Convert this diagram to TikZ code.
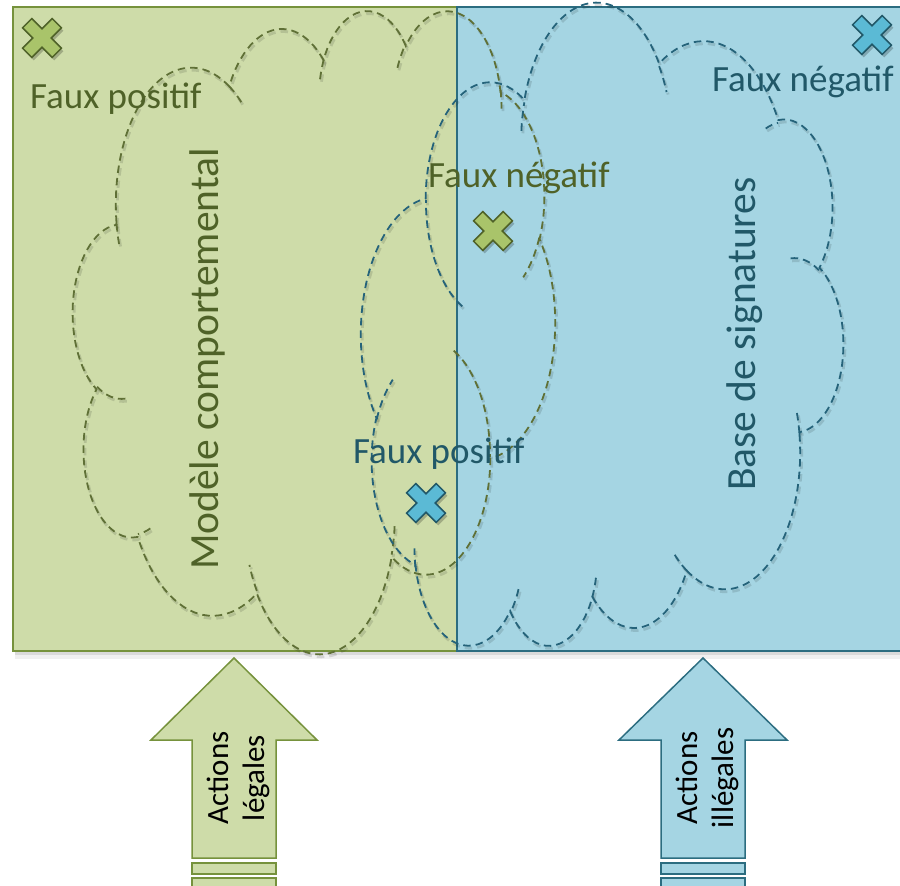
\documentclass[tikz,border=0pt]{standalone}
\usepackage{fontspec}
\setmainfont{Carlito}
\begin{document}
% palette
\definecolor{greenfill}{HTML}{CEDCA9}
\definecolor{greenline}{HTML}{76923C}
\definecolor{greendash}{HTML}{5F7036}
\definecolor{greentext}{HTML}{4F6228}
\definecolor{greencross}{HTML}{A9C46A}
\definecolor{bluefill}{HTML}{A5D5E3}
\definecolor{blueline}{HTML}{2C6D80}
\definecolor{bluedash}{HTML}{25637A}
\definecolor{bluetext}{HTML}{215868}
\definecolor{bluecross}{HTML}{5BBAD5}
\tikzset{
  % elliptic arc given by radii, start angle and sweep (angles measured as seen)
  carc/.style n args={4}{insert path={arc[x radius=#1, y radius=#2,
      start angle={atan2(#1*sin(#3),#2*cos(#3))},
      delta angle={mod(atan2(#1*sin(#3+#4),#2*cos(#3+#4))-atan2(#1*sin(#3),#2*cos(#3))+720,360)}]}},
  cloudline/.style={dash pattern=on 7.5pt off 5pt, line width=1.8pt},
  cloudframe/.style={xscale=11.157, yscale=14.884, shift={(-21.6,-21.6)}},
  label/.style={inner sep=0pt, font=\fontsize{37}{44}\selectfont},
  bigtitle/.style={inner sep=0pt, rotate=90, anchor=base, font=\fontsize{41.5}{50}\selectfont},
  arrowtext/.style={inner sep=0pt, rotate=90, align=center, font=\fontsize{31}{36}\selectfont},
  xshape/.style={insert path={
      (0,-9.2) -- (10.2,-19.4) -- (19.4,-10.2) -- (9.2,0) -- (19.4,10.2)
      -- (10.2,19.4) -- (0,9.2) -- (-10.2,19.4) -- (-19.4,10.2) -- (-9.2,0)
      -- (-19.4,-10.2) -- (-10.2,-19.4) -- cycle}},
}
% cloud outline on a 43.2 x 43.2 frame
\newcommand\pptcloud{%
  \draw (3.9,14.37)
    [carc={6.753}{9.19}{-190.48748}{123.78053}]
    [carc={5.333}{7.267}{-144.10238}{89.94523}]
    [carc={4.365}{5.945}{-145.80792}{99.72302}]
    [carc={4.857}{6.595}{-130.98607}{117.24173}]
    [carc={5.333}{7.273}{-78.70888}{109.02692}]
    [carc={6.775}{9.22}{-46.26725}{130.269}]
    [carc={5.785}{7.867}{0.62502}{114.03333}]
    [carc={6.752}{9.215}{22.4516}{115.17255}]
    [carc={7.72}{10.543}{66.24263}{75.71102}]
    [carc={4.36}{5.918}{-274.94208}{146.73557}]
    [carc={4.345}{5.945}{-246.8285}{152.51885}]
    -- cycle;
  \draw (4.693,26.177) [carc={4.345}{5.945}{86.742}{26.4295}]
    (6.928,34.899) [carc={4.36}{5.918}{73.61047}{11.44747}]
    (16.478,39.09) [carc={6.752}{9.215}{137.62415}{14.0811}]
    (28.827,34.751) [carc={6.752}{9.215}{6.45327}{15.99835}]
    (34.129,22.954) [carc={5.785}{7.867}{-70.29235}{70.91737}]
    (41.798,15.354) [carc={5.333}{7.273}{30.31803}{27.7515}]
    (38.324,5.426) [carc={4.857}{6.595}{-13.74433}{14.8589}]
    (29.078,3.952) [carc={4.857}{6.595}{-149.18145}{18.19537}]
    (22.141,4.72) [carc={4.365}{5.945}{-163.49427}{17.68635}]
    (14,5.192) [carc={6.753}{9.19}{-66.70695}{12.31935}]
    (4.127,15.789) [carc={6.753}{9.19}{157.65435}{11.85817}];
}
% multiplication mark with a soft offset shadow
\newcommand\xmark[3]{%
  \fill[black, opacity=0.22, shift={(#1+2,#2+3)}] [xshape];
  \path[#3, shift={(#1,#2)}] [xshape];
}
\begin{tikzpicture}[x=1pt, y=-1pt]
  \useasboundingbox (0,0) rectangle (900,886);
  \clip (0,0) rectangle (900,886);

  % shadows under the two panels
  \fill[black, opacity=0.06] (15,651) rectangle (900,659);
  \fill[black, opacity=0.09] (15,651) rectangle (900,655);

  % panels
  \draw[greenline, fill=greenfill, line width=1.5pt] (13,7) rectangle (457,651);
  \draw[blueline, fill=bluefill, line width=2pt] (457,7) rectangle (910,651);

  % clouds: shadow copies, then the outlines
  \begin{scope}[shift={(1.5,2.5)}, black, opacity=0.12]
    \begin{scope}[shift={(314,330.5)}, cloudframe, cloudline, line width=2.8pt]
      \pptcloud
    \end{scope}
    \begin{scope}[shift={(602,326.5)}, rotate=180, cloudframe, cloudline, line width=2.8pt]
      \pptcloud
    \end{scope}
  \end{scope}
  \begin{scope}[shift={(314,330.5)}, cloudframe, greendash, cloudline]
    \pptcloud
  \end{scope}
  \begin{scope}[shift={(602,326.5)}, rotate=180, cloudframe, bluedash, cloudline]
    \pptcloud
  \end{scope}

  % marks
  \xmark{42}{38}{fill=greencross, draw=greentext, line width=1.5pt}
  \xmark{493}{231}{fill=greencross, draw=greentext, line width=1.5pt}
  \xmark{872}{35}{fill=bluecross, draw=bluetext, line width=1.5pt}
  \xmark{426}{503}{fill=bluecross, draw=bluetext, line width=1.5pt}

  % labels
  \node[label, greentext, anchor=base west] (fp1) at (30,108) {Faux positif};
  \node[label, bluetext, anchor=base west] (fn1) at (712,91) {Faux négatif};
  \node[label, greentext, anchor=base west] (fn2) at (428,187) {Faux négatif};
  \node[label, bluetext, anchor=base west] (fp2) at (353,463) {Faux positif};
  \node[bigtitle, greentext] (mc) at (218,359) {Modèle comportemental};
  \node[bigtitle, bluetext] (bs) at (755,334) {Base de signatures};

  % block arrows
  \draw[greenline, fill=greenfill, line width=1.5pt]
    (234,658) -- (317,740) -- (276,740) -- (276,858) -- (192,858) -- (192,740) -- (151,740) -- cycle;
  \draw[greenline, fill=greenfill, line width=1.5pt] (192,863) rectangle (276,874);
  \draw[greenline, fill=greenfill, line width=1.5pt] (192,878) rectangle (276,892);
  \draw[blueline, fill=bluefill, line width=1.5pt]
    (703,658) -- (787,740) -- (745,740) -- (745,858) -- (661,858) -- (661,740) -- (619,740) -- cycle;
  \draw[blueline, fill=bluefill, line width=1.5pt] (661,863) rectangle (745,874);
  \draw[blueline, fill=bluefill, line width=1.5pt] (661,878) rectangle (745,892);
  \node[arrowtext] (al) at (238,778) {Actions\\légales};
  \node[arrowtext] (ai) at (707,778) {Actions\\illégales};
\end{tikzpicture}
\end{document}
